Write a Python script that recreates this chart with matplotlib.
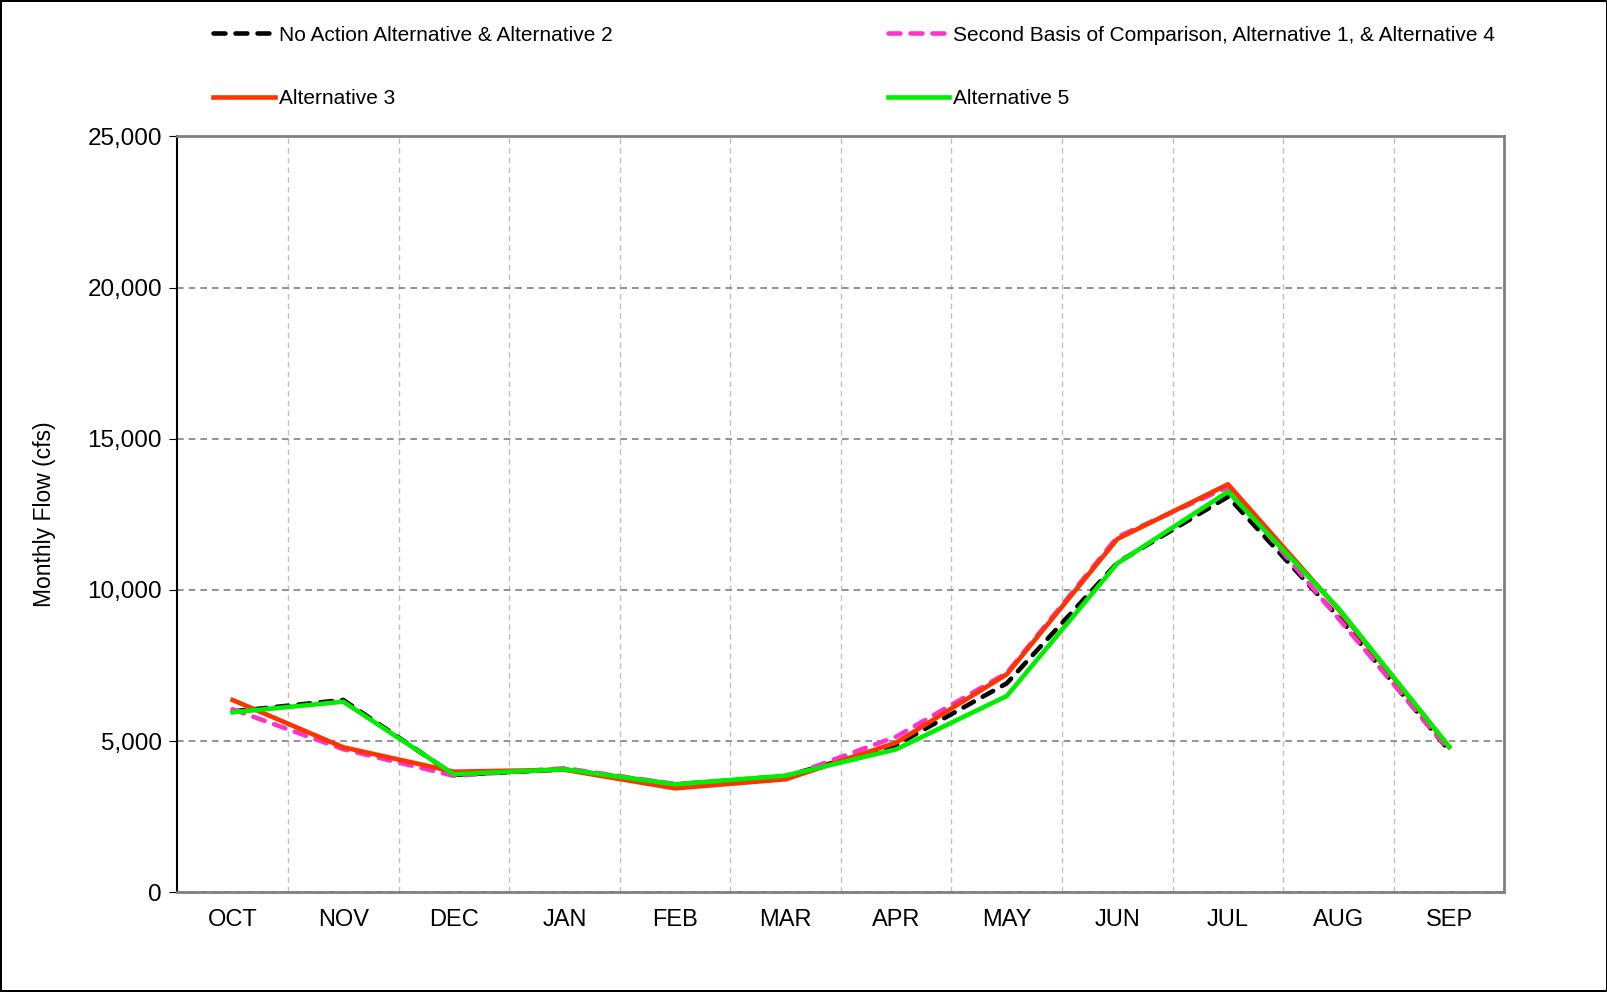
import numpy as np
import matplotlib.pyplot as plt
from matplotlib.ticker import FuncFormatter, FixedLocator

months = ['OCT', 'NOV', 'DEC', 'JAN', 'FEB', 'MAR', 'APR', 'MAY', 'JUN', 'JUL', 'AUG', 'SEP']

# monthly flow (cfs)
no_action = [5980, 6360, 3880, 4060, 3560, 3840, 4870, 6910, 10900, 13080, 9100, 4680]
second_basis = [6050, 4730, 3850, 4100, 3580, 3800, 5145, 7250, 11750, 13400, 9050, 4700]
alt3 = [6357, 4793, 3986, 4050, 3436, 3735, 4946, 7207, 11683, 13493, 9350, 4800]
alt5 = [5950, 6302, 3900, 4065, 3568, 3855, 4727, 6490, 10879, 13248, 9390, 4814]

plt.rcParams['font.family'] = ['Liberation Sans', 'DejaVu Sans']

fig = plt.figure(figsize=(16.08, 9.92), dpi=100)
fig.patch.set_edgecolor('black')
fig.patch.set_linewidth(1.5)
ax = fig.add_axes([0.1103, 0.1006, 0.8253, 0.7619])

x = np.arange(len(months))
l1, = ax.plot(x, no_action, color='black', lw=3.3, dashes=(2.6, 2.2), dash_capstyle='round',
              label='No Action Alternative & Alternative 2')
l2, = ax.plot(x, second_basis, color='#ff33cc', lw=3.3, dashes=(2.6, 2.2), dash_capstyle='round',
              label='Second Basis of Comparison, Alternative 1, & Alternative 4')
l3, = ax.plot(x, alt3, color='#ff3300', lw=3.3, label='Alternative 3')
l4, = ax.plot(x, alt5, color='#00ee00', lw=3.3, label='Alternative 5')

ax.set_xlim(-0.5, 11.5)
ax.set_ylim(0, 25000)
ax.set_xticks(x)
ax.set_xticklabels(months, fontsize=17)
ax.xaxis.set_minor_locator(FixedLocator(np.arange(0.5, 11, 1)))
ax.tick_params(axis='x', which='both', length=0, pad=12)
ax.set_yticks(np.arange(0, 25001, 5000))
ax.yaxis.set_major_formatter(FuncFormatter(lambda v, p: f'{int(v):,}'))
ax.tick_params(axis='y', labelsize=17.5, length=6, direction='out', color='black', pad=5)

ax.grid(axis='y', which='major', color='#808080', linestyle=(0, (4, 3)), lw=1.2)
ax.grid(axis='x', which='minor', color='#c0c0c0', linestyle=(0, (4, 3)), lw=1)
ax.set_axisbelow(True)

for s in ['top', 'right', 'bottom']:
    ax.spines[s].set_color('#808080')
    ax.spines[s].set_linewidth(2)
ax.spines['left'].set_color('black')
ax.spines['left'].set_linewidth(1.5)

ax.set_ylabel('Monthly Flow (cfs)', fontsize=16.5, labelpad=23)

fig.legend([l1, l3, l2, l4], [l1.get_label(), l3.get_label(), l2.get_label(), l4.get_label()],
           ncol=2, loc='upper left', bbox_to_anchor=(0.121, 0.993), frameon=False,
           fontsize=15, handlelength=2.95, handletextpad=0.2, labelspacing=2.15,
           columnspacing=13.2)

fig.savefig('out.png', dpi=100)
